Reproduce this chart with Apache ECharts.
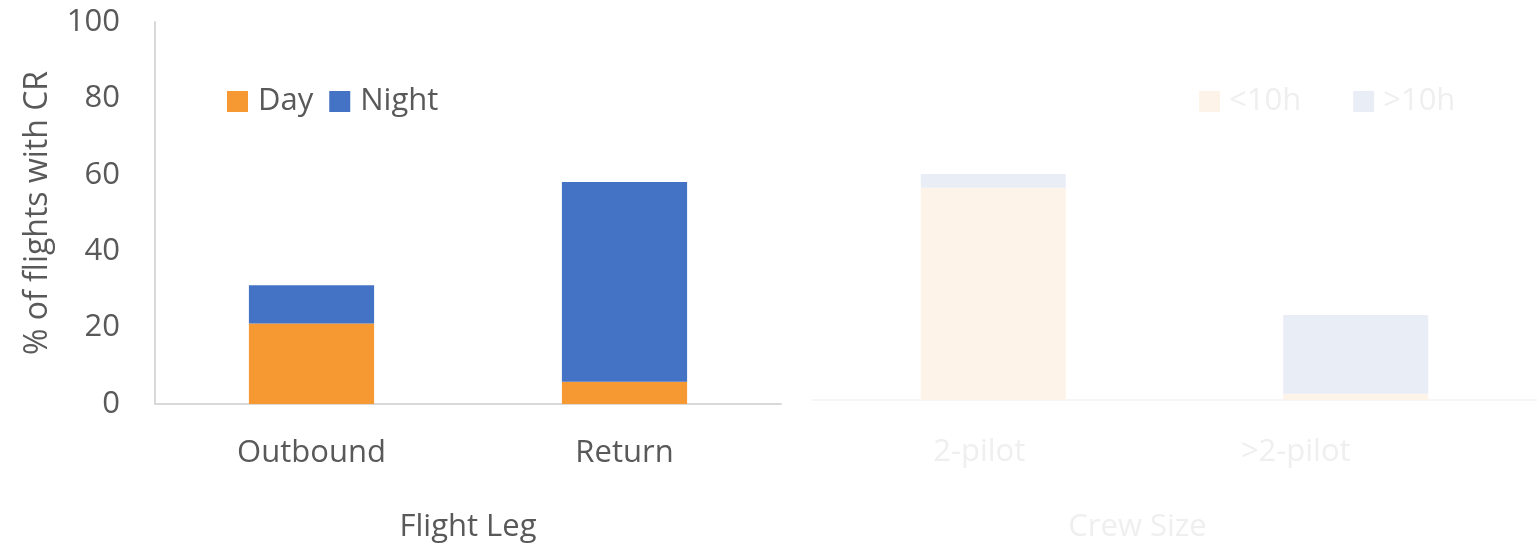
<!DOCTYPE html>
<html>
<head>
<meta charset="utf-8">
<script src="https://cdn.jsdelivr.net/npm/echarts@6/dist/echarts.min.js"></script>
<style>html,body{margin:0;padding:0;background:#fff}#c{width:1537px;height:548px}</style>
</head>
<body>
<div id="c"></div>
<script>
const legCategories = ['Outbound', 'Return'];
const dayValues = [21.1, 5.8];
const nightValues = [10.0, 52.3];
const crewCategories = ['2-pilot', '>2-pilot'];
const under10Values = [55.4, 1.6];
const over10Values = [3.6, 20.6];
const yTicks = [0, 20, 40, 60, 80, 100];

const FONT = 'Open Sans';
const FS = 31;
const TXT = '#595959';
const FADE_TXT = '#efefef';

const chart = echarts.init(document.getElementById('c'));
chart.setOption({
  animation: false,
  textStyle: { fontFamily: FONT },
  legend: [
    { data: ['Day', 'Night'], left: 227, top: 86, padding: 0, itemWidth: 21, itemHeight: 21, itemGap: 16,
      icon: 'rect', textStyle: { fontSize: FS, color: TXT, fontFamily: FONT, padding: [0, 0, 0, 5] } },
    { data: ['<10h', '>10h'], left: 1199, top: 86, padding: 0, itemWidth: 21, itemHeight: 21, itemGap: 52,
      icon: 'rect', textStyle: { fontSize: FS, color: FADE_TXT, fontFamily: FONT, padding: [0, 0, 0, 4] } }
  ],
  grid: [
    { left: 155, width: 626, top: 22, bottom: 143 },
    { left: 812, right: 0, top: 17, bottom: 148 },
    { left: 821, width: 633, top: 17, bottom: 148 }
  ],
  xAxis: [
    { type: 'category', gridIndex: 0, data: legCategories,
      axisLine: { lineStyle: { color: '#d9d9d9', width: 2 } }, axisTick: { show: false },
      axisLabel: { fontSize: FS, color: TXT, margin: 34, fontFamily: FONT },
      name: 'Flight Leg', nameLocation: 'middle', nameGap: 108,
      nameTextStyle: { fontSize: FS, color: TXT, fontFamily: FONT } },
    { type: 'category', gridIndex: 1, data: crewCategories,
      axisLine: { lineStyle: { color: '#f6f6f6', width: 2 } }, axisTick: { show: false },
      axisLabel: { show: false } },
    { type: 'category', gridIndex: 2, data: crewCategories,
      axisLine: { show: false }, axisTick: { show: false },
      axisLabel: { fontSize: FS, color: FADE_TXT, margin: 38, fontFamily: FONT },
      name: 'Crew Size', nameLocation: 'middle', nameGap: 113,
      nameTextStyle: { fontSize: FS, color: FADE_TXT, fontFamily: FONT } }
  ],
  yAxis: [
    { type: 'value', gridIndex: 0, min: yTicks[0], max: yTicks[yTicks.length - 1], interval: 20,
      axisLine: { show: true, lineStyle: { color: '#d9d9d9', width: 2 } }, axisTick: { show: false },
      splitLine: { show: false },
      axisLabel: { fontSize: FS, color: TXT, margin: 35, fontFamily: FONT },
      name: '% of flights with CR', nameLocation: 'middle', nameGap: 101, nameRotate: 90,
      nameTextStyle: { fontSize: 32, color: TXT, fontFamily: FONT } },
    { type: 'value', gridIndex: 1, min: 0, max: 100, show: false },
    { type: 'value', gridIndex: 2, min: 0, max: 100, show: false }
  ],
  series: [
    { name: 'Day', type: 'bar', stack: 'leg', xAxisIndex: 0, yAxisIndex: 0, data: dayValues,
      barWidth: '40%', itemStyle: { color: '#F79933' } },
    { name: 'Night', type: 'bar', stack: 'leg', xAxisIndex: 0, yAxisIndex: 0, data: nightValues,
      barWidth: '40%', itemStyle: { color: '#4472C4' } },
    { name: '<10h', type: 'bar', stack: 'crew', xAxisIndex: 1, yAxisIndex: 1, data: under10Values,
      barWidth: '40%', itemStyle: { color: '#FEF3E9' } },
    { name: '>10h', type: 'bar', stack: 'crew', xAxisIndex: 1, yAxisIndex: 1, data: over10Values,
      barWidth: '40%', itemStyle: { color: '#E9EDF6' } }
  ]
});
</script>
</body>
</html>
